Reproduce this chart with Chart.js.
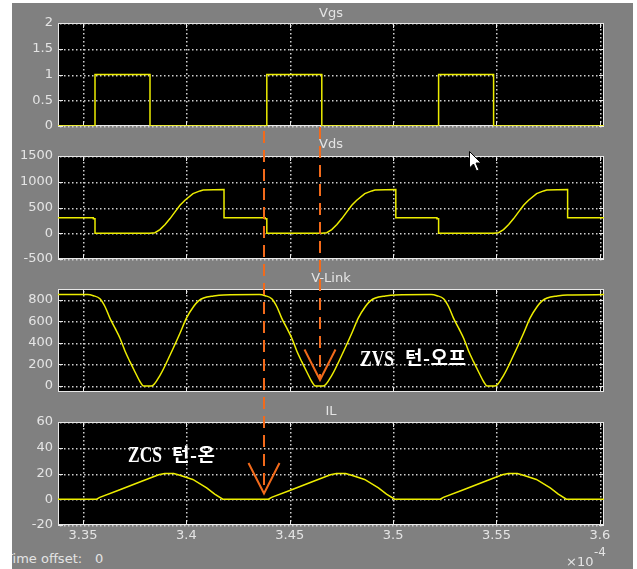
<!DOCTYPE html>
<html><head><meta charset="utf-8">
<script src="https://cdn.jsdelivr.net/npm/chart.js@4.4.0/dist/chart.umd.min.js"></script>
<style>
html,body{margin:0;padding:0;background:#fff;width:637px;height:569px;overflow:hidden;}
#bg{position:absolute;left:12px;top:3px;width:621px;height:566px;background:#808080;overflow:hidden;}
canvas{position:absolute;left:0;top:0;}
.t{position:absolute;font-family:'DejaVu Sans',sans-serif;font-size:13px;line-height:16px;color:#e4e4e4;white-space:pre;}
.title{position:absolute;left:231px;width:200px;text-align:center;font-family:'DejaVu Sans',sans-serif;font-size:13px;line-height:16px;color:#e4e4e4;}
.lat{position:absolute;font-family:'Liberation Serif',serif;font-weight:bold;font-size:23px;line-height:23px;color:#fff;transform:scaleX(0.76);transform-origin:0 0;white-space:pre;}
.kr{position:absolute;font-family:'Noto Sans CJK KR',sans-serif;font-weight:bold;font-size:19px;line-height:20px;color:#fff;white-space:pre;letter-spacing:0.5px;}
</style></head>
<body>
<div id="bg">
  <div class="t" style="left:-7px;top:548px">Time offset:</div>
  <div class="t" style="left:83px;top:548px">0</div>
</div>
<canvas id="c1" width="637" height="569"></canvas>
<canvas id="c2" width="637" height="569"></canvas>
<canvas id="c3" width="637" height="569"></canvas>
<canvas id="c4" width="637" height="569"></canvas>
<div class="title" id="t1" style="top:5px"></div>
<div class="title" id="t2" style="top:136px"></div>
<div class="title" id="t3" style="top:270px"></div>
<div class="title" id="t4" style="top:403px"></div>
<div class="t" style="left:566px;top:554px">×10</div>
<div class="t" style="left:594px;top:544px;font-size:12px">-4</div>
<div class="lat" style="left:128px;top:443px">ZCS</div>
<div class="kr" style="left:172px;top:444px">턴-온</div>
<div class="lat" style="left:360px;top:347px">ZVS</div>
<div class="kr" style="left:405px;top:347px">턴-오프</div>
<svg style="position:absolute;left:469px;top:151px" width="14" height="22"><polygon points="0.5,0.5 0.5,17 4.5,13 7.5,20 10,19 7,12 12,12" fill="#fff" stroke="#000" stroke-width="1"/></svg>
<script>
// ---- data (time in units of 1e-4 s) ----
const panelTitles = ['Vgs', 'Vds', 'V-Link', 'IL'];
const xTickVals = [3.35, 3.4, 3.45, 3.5, 3.55, 3.6];
const xTickLabels = ['3.35', '3.4', '3.45', '3.5', '3.55', '3.6'];
const xMin = 3.3379, xMax = 3.602;

const vgsTicks = [0, 0.5, 1, 1.5, 2];
const vgsTickLabels = ['0', '0.5', '1', '1.5', '2'];
const vdsTicks = [-500, 0, 500, 1000, 1500];
const vdsTickLabels = ['-500', '0', '500', '1000', '1500'];
const vlinkTicks = [0, 200, 400, 600, 800];
const vlinkTickLabels = ['0', '200', '400', '600', '800'];
const ilTicks = [-20, 0, 20, 40, 60];
const ilTickLabels = ['-20', '0', '20', '40', '60'];

const vgsT = [3.3379, 3.3558, 3.3558, 3.3824, 3.3824, 3.4389, 3.4389, 3.4655, 3.4655, 3.5220, 3.5220, 3.5486, 3.5486, 3.602];
const vgsV = [0, 0, 1, 1, 0, 0, 1, 1, 0, 0, 1, 1, 0, 0];

const vdsT = [3.3379, 3.3550, 3.3550, 3.3558, 3.3558,
  3.3824, 3.3848, 3.3872, 3.3897, 3.3921, 3.3945, 3.3969, 3.3993, 3.4032, 3.4066, 3.4081, 3.4182, 3.4182,
  3.4381, 3.4381, 3.4389, 3.4389,
  3.4655, 3.4679, 3.4703, 3.4728, 3.4752, 3.4776, 3.4800, 3.4824, 3.4863, 3.4897, 3.4912, 3.5013, 3.5013,
  3.5212, 3.5212, 3.5220, 3.5220,
  3.5486, 3.5510, 3.5534, 3.5559, 3.5583, 3.5607, 3.5631, 3.5655, 3.5694, 3.5728, 3.5743, 3.5844, 3.5844, 3.602];
const vdsV = [300, 300, 280, 280, 0,
  0, 10, 70, 170, 285, 415, 544, 641, 770, 822, 840, 848, 300,
  300, 280, 280, 0,
  0, 10, 70, 170, 285, 415, 544, 641, 770, 822, 840, 848, 300,
  300, 280, 280, 0,
  0, 10, 70, 170, 285, 415, 544, 641, 770, 822, 840, 848, 300, 300];

const vlinkT = [3.3379, 3.3522, 3.3550, 3.3582, 3.3606, 3.3630, 3.3655, 3.3679, 3.3703, 3.3727, 3.3751, 3.3776, 3.3793, 3.3831, 3.3873, 3.3921, 3.3969, 3.4001, 3.4035, 3.4059, 3.4083, 3.4131, 3.4180,
  3.4353, 3.4381, 3.4413, 3.4437, 3.4461, 3.4486, 3.4510, 3.4534, 3.4558, 3.4582, 3.4607, 3.4624, 3.4662, 3.4704, 3.4752, 3.4800, 3.4832, 3.4866, 3.4890, 3.4914, 3.4962, 3.5011,
  3.5184, 3.5212, 3.5244, 3.5268, 3.5292, 3.5317, 3.5341, 3.5365, 3.5389, 3.5413, 3.5438, 3.5455, 3.5493, 3.5535, 3.5583, 3.5631, 3.5663, 3.5697, 3.5721, 3.5745, 3.5793, 3.5842, 3.602];
const vlinkV = [848, 848, 838, 810, 738, 630, 537, 444, 325, 226, 133, 40, 0, 0, 102, 288, 490, 632, 738, 790, 816, 835, 845,
  848, 838, 810, 738, 630, 537, 444, 325, 226, 133, 40, 0, 0, 102, 288, 490, 632, 738, 790, 816, 835, 845,
  848, 838, 810, 738, 630, 537, 444, 325, 226, 133, 40, 0, 0, 102, 288, 490, 632, 738, 790, 816, 835, 845, 848];

const ilT = [3.3379, 3.3566, 3.3581, 3.3672, 3.3784, 3.3866, 3.3895, 3.3939, 3.3968, 3.4031, 3.4098, 3.4137, 3.4176,
  3.4397, 3.4412, 3.4503, 3.4615, 3.4697, 3.4726, 3.4770, 3.4799, 3.4862, 3.4929, 3.4968, 3.5007,
  3.5228, 3.5243, 3.5334, 3.5446, 3.5528, 3.5557, 3.5601, 3.5630, 3.5693, 3.5760, 3.5799, 3.5838, 3.602];
const ilV = [0, 0, 1.5, 7, 14, 19, 20, 20, 18.7, 15.4, 8.9, 4, 0,
  0, 1.5, 7, 14, 19, 20, 20, 18.7, 15.4, 8.9, 4, 0,
  0, 1.5, 7, 14, 19, 20, 20, 18.7, 15.4, 8.9, 4, 0, 0];

// annotation anchors: [ZCS turn-on time, ZVS turn-off time], tip values (IL, V-Link)
const markTimes = [3.4376, 3.4647];
const markValues = [4.5, 56];

// ---- rendering ----
panelTitles.forEach((t, i) => { document.getElementById('t' + (i + 1)).textContent = t; });
Chart.defaults.font.family = 'DejaVu Sans';
const LABEL = '#e4e4e4', LINE = '#eded00', ORANGE = '#f26a1b';

function dotsH(c, x0, x1, y) { for (let x = x0 + 2; x < x1 - 1; x += 4) c.fillRect(x, y, 1.5, 1.5); }
function dotsV(c, y0, y1, x) { for (let y = y0 + 2; y < y1 - 1; y += 4) c.fillRect(x, y, 1.5, 1.5); }

const framePlugin = {
  id: 'frame',
  beforeDraw(chart) {
    const a = chart.chartArea, c = chart.ctx;
    c.save(); c.fillStyle = '#000'; c.fillRect(a.left, a.top, a.right - a.left, a.bottom - a.top); c.restore();
  },
  beforeDatasetsDraw(chart) {
    const a = chart.chartArea, c = chart.ctx, xs = chart.scales.x, ys = chart.scales.y;
    c.save();
    c.fillStyle = '#d0d0d0';
    xs.ticks.forEach(t => dotsV(c, a.top, a.bottom, Math.round(xs.getPixelForValue(t.value))));
    ys.ticks.forEach(t => dotsH(c, a.left, a.right, Math.round(ys.getPixelForValue(t.value))));
    c.strokeStyle = '#e8e8e8'; c.lineWidth = 1;
    c.strokeRect(a.left + 0.5, a.top + 0.5, a.right - a.left - 1, a.bottom - a.top - 1);
    c.beginPath();
    xs.ticks.forEach(t => { const p = Math.round(xs.getPixelForValue(t.value)) + 0.5;
      c.moveTo(p, a.top); c.lineTo(p, a.top + 5); c.moveTo(p, a.bottom); c.lineTo(p, a.bottom - 5); });
    ys.ticks.forEach(t => { const p = Math.round(ys.getPixelForValue(t.value)) + 0.5;
      c.moveTo(a.left, p); c.lineTo(a.left + 5, p); c.moveTo(a.right, p); c.lineTo(a.right - 5, p); });
    c.stroke(); c.restore();
  }
};

function xScale(show) {
  return {
    type: 'linear', min: xMin, max: xMax,
    afterBuildTicks: s => { s.ticks = xTickVals.map(v => ({ value: v })); },
    afterFit: s => { s.height = show ? 24 : 0; },
    grid: { display: false, drawTicks: false },
    border: { display: false },
    ticks: { display: show, autoSkip: false, maxRotation: 0, padding: 3, color: LABEL,
      font: { size: 13 }, callback: (v, i) => xTickLabels[i] }
  };
}
function yScale(min, max, vals, labels) {
  return {
    type: 'linear', min, max,
    afterBuildTicks: s => { s.ticks = vals.map(v => ({ value: v })); },
    afterFit: s => { s.width = 58; },
    grid: { display: false, drawTicks: false },
    border: { display: false },
    ticks: { padding: 5, color: LABEL, font: { size: 13 }, callback: (v, i) => labels[i] }
  };
}
function pts(T, V) { return T.map((t, i) => ({ x: t, y: V[i] })); }

const charts = {};
function make(id, key, T, V, yMin, yMax, ticks, labels, top, bottom, showX, smooth, extra) {
  const xh = showX ? 24 : 0;
  charts[key] = new Chart(document.getElementById(id), {
    type: 'line',
    data: { datasets: [{ data: pts(T, V), borderColor: LINE, borderWidth: 1.5, pointRadius: 0,
      tension: 0, cubicInterpolationMode: smooth ? 'monotone' : 'default', fill: false }] },
    options: {
      responsive: false, animation: false, events: [],
      layout: { padding: { left: 0, right: 33, top: top, bottom: 569 - bottom - xh } },
      plugins: { legend: { display: false }, tooltip: { enabled: false }, title: { display: false } },
      scales: { x: xScale(showX), y: yScale(yMin, yMax, ticks, labels) }
    },
    plugins: extra ? [framePlugin, extra] : [framePlugin]
  });
}

const overlay = {
  id: 'overlay',
  afterDraw(chart) {
    const c = chart.ctx, xs = chart.scales.x;
    const x1 = Math.round(xs.getPixelForValue(markTimes[0]));
    const x2 = Math.round(xs.getPixelForValue(markTimes[1]));
    const base = charts.vgs.chartArea.bottom;
    const tip1 = chart.scales.y.getPixelForValue(markValues[0]);
    const tip2 = charts.vlink.scales.y.getPixelForValue(markValues[1]);
    c.save(); c.strokeStyle = ORANGE; c.lineWidth = 2;
    c.setLineDash([12, 7]);
    c.beginPath(); c.moveTo(x1, base + 5); c.lineTo(x1, tip1); c.stroke();
    c.beginPath(); c.moveTo(x2, base + 1); c.lineTo(x2, tip2); c.stroke();
    c.setLineDash([]);
    [[x1, tip1], [x2, tip2]].forEach(([x, y]) => {
      c.beginPath(); c.moveTo(x - 15.5, y - 30.5); c.lineTo(x, y); c.lineTo(x + 15.5, y - 30.5); c.stroke();
    });
    c.restore();
  }
};

make('c1', 'vgs', vgsT, vgsV, 0, 2, vgsTicks, vgsTickLabels, 23, 126, false, false);
make('c2', 'vds', vdsT, vdsV, -500, 1500, vdsTicks, vdsTickLabels, 156, 259, false, false);
make('c3', 'vlink', vlinkT, vlinkV, -55, 900, vlinkTicks, vlinkTickLabels, 289, 392, false, true);
make('c4', 'il', ilT, ilV, -20, 60, ilTicks, ilTickLabels, 422, 525, true, false, overlay);
</script>
</body></html>
